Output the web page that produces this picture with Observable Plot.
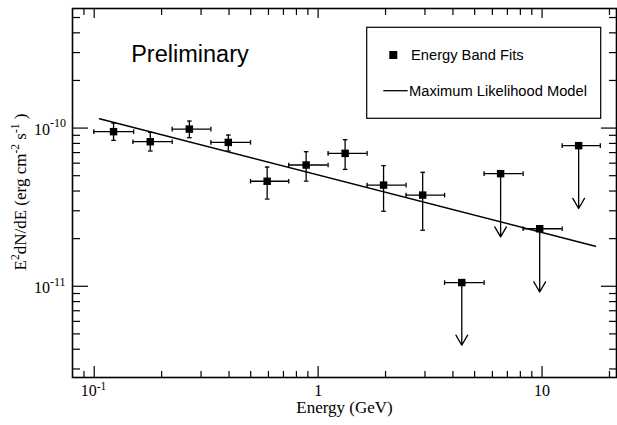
<!DOCTYPE html>
<html><head><meta charset="utf-8">
<script src="https://cdn.jsdelivr.net/npm/d3@7"></script>
<script src="https://cdn.jsdelivr.net/npm/@observablehq/plot@0.6"></script>
<style>
body{margin:0;background:#fff;}
#wrap{position:relative;width:617px;height:425px;}
</style></head><body><div id="wrap"></div>
<script>
// ---- data ----
const bandE   = [0.122, 0.178, 0.266, 0.397, 0.592, 0.884, 1.32, 1.96, 2.93];
const bandLo  = [0.0996, 0.149, 0.223, 0.332, 0.499, 0.739, 1.108, 1.655, 2.47];
const bandHi  = [0.150, 0.223, 0.332, 0.499, 0.739, 1.108, 1.655, 2.47, 3.67];
const bandF   = [9.49e-11, 8.2e-11, 9.85e-11, 8.12e-11, 4.61e-11, 5.84e-11, 6.92e-11, 4.36e-11, 3.77e-11];
const bandFLo = [8.36e-11, 7.16e-11, 8.69e-11, 7.16e-11, 3.56e-11, 4.62e-11, 5.48e-11, 2.98e-11, 2.26e-11];
const bandFHi = [1.076e-10, 9.39e-11, 1.107e-10, 9.03e-11, 5.67e-11, 7.09e-11, 8.45e-11, 5.79e-11, 5.25e-11];
const limE    = [4.38, 6.53, 9.76, 14.57];
const limLo   = [3.67, 5.51, 8.23, 12.3];
const limHi   = [5.51, 8.23, 12.3, 18.2];
const limF    = [1.055e-11, 5.15e-11, 2.31e-11, 7.74e-11];
const limTip  = [4.24e-12, 2.05e-11, 9.2e-12, 3.1e-11];
const modelE  = [0.1056, 17.3];
const modelF  = [1.146e-10, 1.79e-11];
const xMajor  = [0.1, 1, 10];
const xMinor  = [0.09, 0.2, 0.3, 0.4, 0.5, 0.6, 0.7, 0.8, 0.9, 2, 3, 4, 5, 6, 7, 8, 9, 20];
const xTickBase = ["10", "1", "10"];
const xTickExp  = ["-1", "", ""];
const yMajor  = [1e-11, 1e-10];
const yMinor  = [3e-12, 4e-12, 5e-12, 6e-12, 7e-12, 8e-12, 9e-12,
                 2e-11, 3e-11, 4e-11, 5e-11, 6e-11, 7e-11, 8e-11, 9e-11,
                 2e-10, 3e-10, 4e-10, 5e-10];
const yTickExp = ["-11", "-10"];
const xDomain = [0.080, 21.5];
const yDomain = [2.65e-12, 5.7e-10];

// ---- tables ----
const bands = bandE.map((e, i) => ({E: e, lo: bandLo[i], hi: bandHi[i], F: bandF[i], fLo: bandFLo[i], fHi: bandFHi[i]}));
const lims = limE.map((e, i) => ({E: e, lo: limLo[i], hi: limHi[i], F: limF[i], tip: limTip[i]}));
const model = modelE.map((e, i) => ({E: e, F: modelF[i]}));
const points = [...bands, ...lims];
const xLabels = xMajor.map((v, i) => ({v, base: xTickBase[i], exp: xTickExp[i]}));
const yLabels = yMajor.map((v, i) => ({v, exp: yTickExp[i]}));

const W = 617, H = 425, mL = 72, mR = 1, mT = 8, mB = 48;
const PW = W - mL - mR, PH = H - mT - mB;

const vcap = {draw(ctx, size) { const h = Math.sqrt(size / Math.PI); ctx.moveTo(0, -h); ctx.lineTo(0, h); }};
const hcap = {draw(ctx, size) { const h = Math.sqrt(size / Math.PI); ctx.moveTo(-h, 0); ctx.lineTo(h, 0); }};
const sw = 1.3;
const serif = "Liberation Serif, Times New Roman, serif";
const sans = "Liberation Sans, Arial, Helvetica, sans-serif";

const svg = Plot.plot({
  width: W, height: H,
  marginLeft: mL, marginRight: mR, marginTop: mT, marginBottom: mB,
  x: {type: "log", domain: xDomain, axis: null},
  y: {type: "log", domain: yDomain, axis: null},
  style: {background: "white", fontFamily: serif, color: "black"},
  marks: [
    // inward ticks on all four sides
    Plot.tickX(xMajor, {x: d => d, insetTop: PH - 11, strokeWidth: 1.2}),
    Plot.tickX(xMinor, {x: d => d, insetTop: PH - 6, strokeWidth: 1.2}),
    Plot.tickX(xMajor, {x: d => d, insetBottom: PH - 10, strokeWidth: 1.2}),
    Plot.tickX(xMinor, {x: d => d, insetBottom: PH - 7, strokeWidth: 1.2}),
    Plot.tickY(yMajor, {y: d => d, insetRight: PW - 16, strokeWidth: 1.2}),
    Plot.tickY(yMinor, {y: d => d, insetRight: PW - 8, strokeWidth: 1.2}),
    Plot.tickY(yMajor, {y: d => d, insetLeft: PW - 15, strokeWidth: 1.2}),
    Plot.tickY(yMinor, {y: d => d, insetLeft: PW - 7, strokeWidth: 1.2}),
    Plot.frame({strokeWidth: 1.6}),
    // tick labels
    Plot.text(xLabels.filter(d => d.exp), {x: "v", text: "base", frameAnchor: "bottom", textAnchor: "end", dx: 2.5, dy: 18.3, fontSize: 16}),
    Plot.text(xLabels.filter(d => d.exp), {x: "v", text: "exp", frameAnchor: "bottom", textAnchor: "start", dx: 2.5, dy: 12.5, fontSize: 11.5}),
    Plot.text(xLabels.filter(d => !d.exp), {x: "v", text: "base", frameAnchor: "bottom", textAnchor: "middle", dy: 18.3, fontSize: 16}),
    Plot.text(yLabels, {y: "v", text: () => "10", frameAnchor: "left", textAnchor: "end", dx: -22.5, dy: 1.5, fontSize: 16}),
    Plot.text(yLabels, {y: "v", text: "exp", frameAnchor: "left", textAnchor: "start", dx: -22.5, dy: -4.5, fontSize: 12}),
    Plot.text(["Energy (GeV)"], {frameAnchor: "bottom", dy: 35.3, fontSize: 17}),
    Plot.text(["Preliminary"], {frameAnchor: "top-left", textAnchor: "start", lineAnchor: "top", dx: 58.7, dy: 37, fontSize: 23.5, fontFamily: sans}),
    // model
    Plot.line(model, {x: "E", y: "F", stroke: "black", strokeWidth: 1.5}),
    // band fits with errors
    Plot.ruleY(bands, {y: "F", x1: "lo", x2: "hi", strokeWidth: sw}),
    Plot.ruleX(bands, {x: "E", y1: "fLo", y2: "fHi", strokeWidth: sw}),
    Plot.dot(bands, {x: "lo", y: "F", symbol: vcap, r: 2.3, stroke: "black", fill: "none", strokeWidth: sw}),
    Plot.dot(bands, {x: "hi", y: "F", symbol: vcap, r: 2.3, stroke: "black", fill: "none", strokeWidth: sw}),
    Plot.dot(bands, {x: "E", y: "fLo", symbol: hcap, r: 2.3, stroke: "black", fill: "none", strokeWidth: sw}),
    Plot.dot(bands, {x: "E", y: "fHi", symbol: hcap, r: 2.3, stroke: "black", fill: "none", strokeWidth: sw}),
    // upper limits
    Plot.ruleY(lims, {y: "F", x1: "lo", x2: "hi", strokeWidth: sw}),
    Plot.dot(lims, {x: "lo", y: "F", symbol: vcap, r: 2.3, stroke: "black", fill: "none", strokeWidth: sw}),
    Plot.dot(lims, {x: "hi", y: "F", symbol: vcap, r: 2.3, stroke: "black", fill: "none", strokeWidth: sw}),
    Plot.arrow(lims, {x1: "E", x2: "E", y1: "F", y2: "tip", headLength: 13.5, headAngle: 60, strokeWidth: sw, stroke: "black"}),
    // squares
    Plot.dot(points, {x: "E", y: "F", symbol: "square", r: 4.2, fill: "black", stroke: "none"})
  ]
});

// y axis label with superscripts
const s = d3.select(svg);
const yl = s.append("text")
  .attr("transform", "translate(25.5,192) rotate(-90)")
  .attr("text-anchor", "middle")
  .attr("font-family", serif).attr("font-size", 17).attr("fill", "black");
const parts = [["E", 0], ["2", 1], ["dN/dE (erg cm", 0], ["-2", 1], [" s", 0], ["-1", 1], [" )", 0]];
let prevSup = 0;
for (const [t, sup] of parts) {
  const dy = sup === prevSup ? 0 : (sup ? -6.5 : 6.5);
  yl.append("tspan").attr("dy", dy).attr("font-size", sup ? 11.5 : 17).text(t);
  prevSup = sup;
}

// legend
const lg = s.append("g").attr("font-family", sans).attr("font-size", 14.7).attr("fill", "black").attr("text-anchor", "start");
lg.append("rect").attr("x", 366.7).attr("y", 27.3).attr("width", 234).attr("height", 91)
  .attr("fill", "white").attr("stroke", "black").attr("stroke-width", 1.2);
lg.append("rect").attr("x", 389.3).attr("y", 51).attr("width", 8).attr("height", 8).attr("fill", "black");
lg.append("text").attr("x", 411).attr("y", 60.3).attr("text-anchor", "start").text("Energy Band Fits");
lg.append("line").attr("x1", 383.3).attr("x2", 407.7).attr("y1", 90.7).attr("y2", 90.7).attr("stroke", "black").attr("stroke-width", 1.3);
lg.append("text").attr("x", 409).attr("y", 96).attr("text-anchor", "start").text("Maximum Likelihood Model");

document.getElementById("wrap").appendChild(svg);
</script></body></html>
